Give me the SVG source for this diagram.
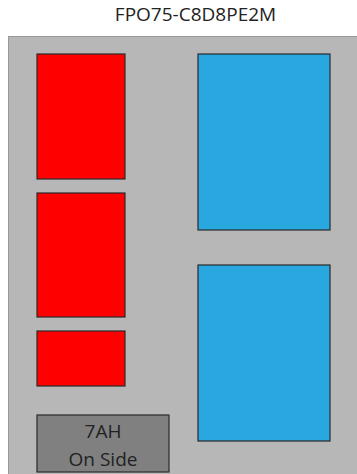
<svg xmlns="http://www.w3.org/2000/svg" width="357" height="474" viewBox="0 0 357 474">
<style>
.box{stroke:#2a2a2a;stroke-width:1.2}
.red{fill:#ff0000}
.blue{fill:#29a8e0}
.gray{fill:#808080}
text{font-family:"Open Sans","Liberation Sans",sans-serif;font-size:19px;fill:#222;text-anchor:middle}
</style>
<rect id="background" x="8.5" y="36.5" width="360" height="450" fill="#b7b7b7" stroke="#999" stroke-width="1"/>
<text id="title" x="195.5" y="21">FPO75-C8D8PE2M</text>
<g id="red1"><rect class="box red" x="37" y="54" width="88" height="125"/></g>
<g id="red2"><rect class="box red" x="37" y="193" width="88" height="124"/></g>
<g id="red3"><rect class="box red" x="37" y="331" width="88" height="55"/></g>
<g id="blue1"><rect class="box blue" x="198" y="54" width="132" height="176"/></g>
<g id="blue2"><rect class="box blue" x="198" y="265" width="132" height="176"/></g>
<g id="label7ah"><rect class="box gray" x="37" y="415" width="132" height="57"/>
<text x="103" y="437.5">7AH</text>
<text x="103" y="465.5">On Side</text></g>
<g id="connectors"/>
</svg>
